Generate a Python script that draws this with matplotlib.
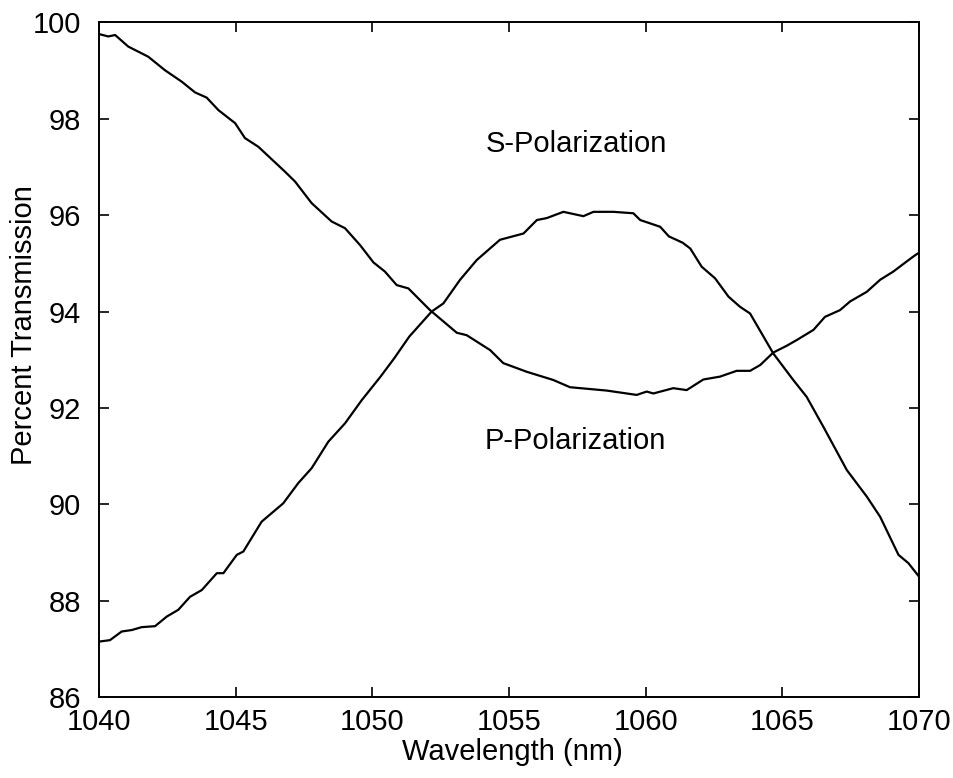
import matplotlib
matplotlib.use("Agg")
import matplotlib.pyplot as plt

plt.rcParams['font.family'] = ['Liberation Sans', 'DejaVu Sans']

# S-polarization (peaked curve)
s_wl = [1040.0, 1040.4, 1040.83, 1041.2, 1041.56, 1042.05, 1042.48, 1042.9, 1043.33, 1043.76,
        1044.31, 1044.55, 1045.04, 1045.28, 1045.95, 1046.74, 1047.29, 1047.78, 1048.39, 1049.0,
        1049.61, 1050.3, 1050.8, 1051.35, 1052.17, 1052.6, 1053.21, 1053.82, 1054.67, 1055.53,
        1056.02, 1056.38, 1056.99, 1057.72, 1058.09, 1058.82, 1059.55, 1059.8, 1060.53, 1060.85,
        1061.35, 1061.63, 1062.05, 1062.54, 1063.03, 1063.45, 1063.82, 1064.67, 1065.4, 1065.89,
        1066.5, 1067.36, 1068.09, 1068.58, 1069.25, 1069.61, 1070.0]
s_trans = [87.15, 87.18, 87.36, 87.39, 87.45, 87.47, 87.67, 87.81, 88.08, 88.22,
           88.57, 88.57, 88.95, 89.02, 89.64, 90.02, 90.44, 90.75, 91.30, 91.68,
           92.16, 92.65, 93.03, 93.48, 94.0, 94.17, 94.66, 95.07, 95.49, 95.62,
           95.90, 95.94, 96.07, 95.98, 96.07, 96.07, 96.04, 95.90, 95.76, 95.56,
           95.43, 95.31, 94.93, 94.69, 94.31, 94.10, 93.96, 93.13, 92.58, 92.23,
           91.61, 90.71, 90.16, 89.74, 88.95, 88.78, 88.50]

# P-polarization (dip curve)
p_wl = [1040.0, 1040.34, 1040.59, 1041.07, 1041.8, 1042.41, 1043.03, 1043.51, 1043.94, 1044.37,
        1044.98, 1045.34, 1045.83, 1046.81, 1047.17, 1047.78, 1048.51, 1049.0, 1049.55, 1050.04,
        1050.46, 1050.89, 1051.32, 1052.11, 1053.09, 1053.45, 1054.31, 1054.79, 1055.65, 1056.62,
        1057.23, 1058.58, 1059.67, 1060.04, 1060.28, 1061.01, 1061.5, 1062.11, 1062.72, 1063.33,
        1063.82, 1064.19, 1064.67, 1065.16, 1065.53, 1066.14, 1066.56, 1067.11, 1067.48, 1068.09,
        1068.58, 1069.06, 1069.55, 1069.86, 1070.0]
p_trans = [99.76, 99.71, 99.74, 99.50, 99.29, 99.01, 98.77, 98.55, 98.44, 98.18,
           97.91, 97.60, 97.42, 96.90, 96.70, 96.25, 95.87, 95.73, 95.38, 95.02,
           94.83, 94.55, 94.48, 94.03, 93.56, 93.51, 93.20, 92.93, 92.75, 92.58,
           92.43, 92.36, 92.27, 92.34, 92.30, 92.41, 92.37, 92.59, 92.65, 92.77,
           92.77, 92.89, 93.15, 93.29, 93.41, 93.62, 93.89, 94.03, 94.21, 94.41,
           94.66, 94.83, 95.04, 95.17, 95.22]

x_ticks = [1040, 1045, 1050, 1055, 1060, 1065, 1070]
y_ticks = [86, 88, 90, 92, 94, 96, 98, 100]

fig = plt.figure(figsize=(9.54, 7.78), dpi=100)
ax = fig.add_axes([0.1038, 0.1041, 0.8595, 0.867])

ax.plot(s_wl, s_trans, color='black', lw=1.6)
ax.plot(p_wl, p_trans, color='black', lw=1.6)

ax.text(1057.45, 97.48, 'S-Polarization', fontsize=21, ha='center', va='center')
ax.text(1057.42, 91.31, 'P-Polarization', fontsize=21, ha='center', va='center')

ax.set_xlim(1040, 1070)
ax.set_ylim(86, 100)
ax.set_xticks(x_ticks)
ax.set_yticks(y_ticks)
ax.tick_params(direction='in', length=7, width=1.2, labelsize=21, top=True, right=True)
ax.tick_params(axis='x', pad=8)
ax.tick_params(axis='y', pad=13)
for sp in ax.spines.values():
    sp.set_linewidth(1.4)

ax.set_xlabel('Wavelength (nm)', fontsize=21, va='center')
ax.set_ylabel('Percent Transmission', fontsize=21, va='center')
ax.xaxis.set_label_coords(0.504, -0.0815)
ax.yaxis.set_label_coords(-0.0915, 0.5515)

fig.savefig('out.png', dpi=100)
